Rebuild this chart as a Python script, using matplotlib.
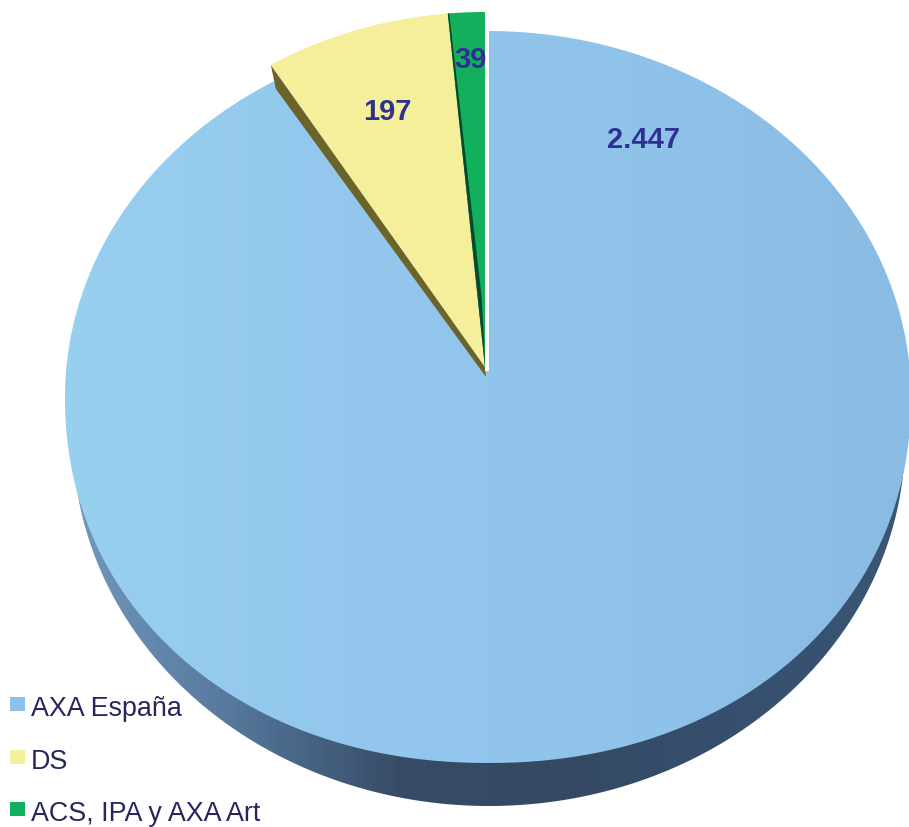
import numpy as np
import matplotlib.pyplot as plt
from matplotlib.patches import Polygon, Rectangle
from matplotlib.colors import LinearSegmentedColormap

plt.rcParams['font.family'] = ['Liberation Sans', 'DejaVu Sans']

labels = ['AXA España', 'DS', 'ACS, IPA y AXA Art']
values = [2447, 197, 39]
value_text = ['2.447', '197', '39']
colors = ['#8FC1E8', '#F5EE9A', '#12B05C']
wall_color = '#6B6428'
strip_color = '#0A4A2A'

ink = '#2E3192'
legend_ink = '#27265E'


def rim(t, cx, cy, rx, ry, p=2.0):
    # near half of the disc is a bit squarer than a true ellipse (p > 2)
    t = np.asarray(t)
    s, c = np.sin(t), np.cos(t)
    e = np.where(c < 0, 2.0 / p, 1.0)
    return (cx + rx * np.sign(s) * np.abs(s) ** e,
            cy - ry * np.sign(c) * np.abs(c) ** e)


def wedge(t0, t1, apex, shape, p=2.0):
    t = np.linspace(t0, t1, 400)
    x, y = rim(t, *shape, p)
    return np.column_stack([np.r_[apex[0], x], np.r_[apex[1], y]])


def gradient(ax, patch, stops, extent):
    cmap = LinearSegmentedColormap.from_list('g', stops)
    ax.add_patch(patch)
    img = ax.imshow(np.linspace(0, 1, 256)[None, :], cmap=cmap, extent=extent,
                    aspect='auto', zorder=patch.get_zorder())
    img.set_clip_path(patch)


fig = plt.figure(figsize=(9.09, 8.28), dpi=100)
ax = fig.add_axes([0, 0, 1, 1])

# slice angles, clockwise from 12 o'clock
edges = np.r_[0, np.cumsum(values)] / np.sum(values) * 2 * np.pi

# side wall of the disc, an ellipse peeking out under the top face
t = np.linspace(0, 2 * np.pi, 600)
x, y = rim(t, 489, 440, 416, 367)
gradient(ax, Polygon(np.column_stack([x, y]), closed=True, fc='none', ec='none', zorder=1),
         ['#7599BF', '#55789C', '#364B65', '#344A63', '#36506E', '#3A5676'],
         (60, 915, 828, 0))

# top face: the big slice runs on under the two pulled out ones
top_face = (488, 398, 423, 366)
gradient(ax, Polygon(wedge(0, 2 * np.pi, (488, 372), top_face, 2.1), closed=True,
                     fc='none', ec='none', zorder=2),
         ['#98D0F0', '#93C7EE', '#8FC3EA', '#8ABBE3'],
         (60, 915, 828, 0))

# pulled out slices
small = (485, 368, 408, 355)
apex = np.array([485, 368])

# yellow slice, dark wall along its left edge
yw = wedge(edges[1], edges[2], apex, small)
tip = yw[1]
wall = [apex, tip, tip + (5, 24), (486, 378)]
ax.add_patch(Polygon(wall, closed=True, fc=wall_color, ec='none', zorder=3))
ax.add_patch(Polygon(yw, closed=True, fc=colors[1], ec='none', zorder=4))

# green slice, dark strip along its left edge
gw = wedge(edges[2], edges[3], apex, small)
tip = gw[1]
strip = [apex, tip, tip + (1.5, 0), tip + 0.8 * (apex - tip) + (4, 0), apex + (0.5, 0)]
ax.add_patch(Polygon(gw, closed=True, fc=colors[2], ec='none', zorder=5))
ax.add_patch(Polygon(strip, closed=True, fc=strip_color, ec='none', zorder=6))

# white gap between first and last slice
ax.plot([487, 487], [0, 372], color='white', lw=2.9, solid_capstyle='butt', zorder=7)

ax.text(643, 140, value_text[0], color=ink, fontsize=21, fontweight='bold', ha='center', va='center', zorder=8)
ax.text(387, 112, value_text[1], color=ink, fontsize=21, fontweight='bold', ha='center', va='center', zorder=8)
ax.text(470, 60, value_text[2], color=ink, fontsize=21, fontweight='bold', ha='center', va='center', zorder=8)

# legend
legend_y = [716, 769, 821]
for lab, col, yy in zip(labels, colors, legend_y):
    ax.add_patch(Rectangle((10, yy - 18), 15, 14, fc=col, ec='none', zorder=8))
    ax.text(31, yy, lab, color=legend_ink, fontsize=19.4, ha='left', va='baseline', zorder=8)

ax.set_xlim(0, 909)
ax.set_ylim(828, 0)
ax.axis('off')
fig.savefig('out.png', dpi=100)
